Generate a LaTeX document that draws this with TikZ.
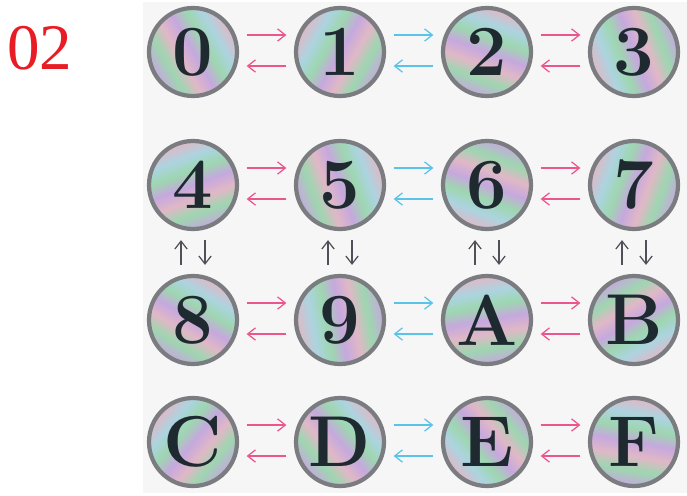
\documentclass[tikz,border=0pt]{standalone}
\usepackage{fontspec}
\usepackage{xcolor}
\usepackage{tikz}
\usetikzlibrary{arrows.meta, positioning}
\newfontfamily\tagfont{Liberation Serif}
\definecolor{irispurple}{RGB}{198,168,222}
\definecolor{irisgreen}{RGB}{158,214,176}
\definecolor{irispink}{RGB}{224,184,198}
\definecolor{iriscyan}{RGB}{172,212,224}
\definecolor{rimgray}{RGB}{122,124,128}
\definecolor{glyphdark}{RGB}{30,42,48}
\definecolor{pinkline}{RGB}{236,86,140}
\definecolor{cyanline}{RGB}{90,196,232}
\definecolor{stemgray}{RGB}{80,80,88}
\definecolor{panelgray}{RGB}{246,246,247}
\definecolor{labelred}{RGB}{232,28,36}
\pgfdeclarehorizontalshading{iris}{100bp}{color(0bp)=(irispurple);
  color(25bp)=(irispurple); color(34bp)=(irisgreen); color(42bp)=(irispink);
  color(50bp)=(irispurple); color(58bp)=(irisgreen); color(66bp)=(iriscyan);
  color(75bp)=(irispink); color(100bp)=(irispink)}
\tikzset{
  coin/.style={circle, minimum size=1.76cm, inner sep=0pt, draw=rimgray,
    line width=2.4pt, shading=iris, shading angle=#1, text=glyphdark,
    font=\fontsize{41}{41}\selectfont\bfseries},
  coin/.default=0,
  pinkarrow/.style={-{Straight Barb[length=4.5pt,width=7pt]}, line width=0.7pt,
    color=pinkline, shorten <=0.15cm, shorten >=0.15cm},
  cyanarrow/.style={pinkarrow, color=cyanline},
  stemarrow/.style={pinkarrow, color=stemgray, shorten <=0.18cm, shorten >=0.18cm},
}
\begin{document}
\begin{tikzpicture}[on grid, node distance=2.66cm and 2.94cm]
  \useasboundingbox (0,0) rectangle (13.74,-9.9);
  \fill[panelgray] (2.86,-0.04) rectangle (13.74,-9.86);
  \node[font=\tagfont\fontsize{37}{37}\selectfont, text=labelred] (tag) at (0.8,-0.96) {02};

  % row 0
  \node[coin=30] (n0) at (3.86,-1.04) {0};
  \node[coin=150, right=of n0] (n1) {1};
  \node[coin=70, right=of n1] (n2) {2};
  \node[coin=200, right=of n2] (n3) {3};
  % row 1
  \node[coin=110, below=of n0] (n4) {4};
  \node[coin=20, right=of n4] (n5) {5};
  \node[coin=250, right=of n5] (n6) {6};
  \node[coin=160, right=of n6] (n7) {7};
  % row 2
  \node[coin=60, below=2.70cm of n4] (n8) {8};
  \node[coin=190, right=of n8] (n9) {9};
  \node[coin=100, right=of n9] (nA) {A};
  \node[coin=300, right=of nA] (nB) {B};
  % row 3
  \node[coin=140, below=2.44cm of n8] (nC) {C};
  \node[coin=40, right=of nC] (nD) {D};
  \node[coin=220, right=of nD] (nE) {E};
  \node[coin=80, right=of nE] (nF) {F};

  \draw[pinkarrow] ([yshift=0.34cm]n0.east) -- ([yshift=0.34cm]n1.west);
  \draw[pinkarrow] ([yshift=-0.28cm]n1.west) -- ([yshift=-0.28cm]n0.east);
  \draw[cyanarrow] ([yshift=0.34cm]n1.east) -- ([yshift=0.34cm]n2.west);
  \draw[cyanarrow] ([yshift=-0.28cm]n2.west) -- ([yshift=-0.28cm]n1.east);
  \draw[pinkarrow] ([yshift=0.34cm]n2.east) -- ([yshift=0.34cm]n3.west);
  \draw[pinkarrow] ([yshift=-0.28cm]n3.west) -- ([yshift=-0.28cm]n2.east);

  \draw[pinkarrow] ([yshift=0.34cm]n4.east) -- ([yshift=0.34cm]n5.west);
  \draw[pinkarrow] ([yshift=-0.28cm]n5.west) -- ([yshift=-0.28cm]n4.east);
  \draw[cyanarrow] ([yshift=0.34cm]n5.east) -- ([yshift=0.34cm]n6.west);
  \draw[cyanarrow] ([yshift=-0.28cm]n6.west) -- ([yshift=-0.28cm]n5.east);
  \draw[pinkarrow] ([yshift=0.34cm]n6.east) -- ([yshift=0.34cm]n7.west);
  \draw[pinkarrow] ([yshift=-0.28cm]n7.west) -- ([yshift=-0.28cm]n6.east);

  \draw[pinkarrow] ([yshift=0.34cm]n8.east) -- ([yshift=0.34cm]n9.west);
  \draw[pinkarrow] ([yshift=-0.28cm]n9.west) -- ([yshift=-0.28cm]n8.east);
  \draw[cyanarrow] ([yshift=0.34cm]n9.east) -- ([yshift=0.34cm]nA.west);
  \draw[cyanarrow] ([yshift=-0.28cm]nA.west) -- ([yshift=-0.28cm]n9.east);
  \draw[pinkarrow] ([yshift=0.34cm]nA.east) -- ([yshift=0.34cm]nB.west);
  \draw[pinkarrow] ([yshift=-0.28cm]nB.west) -- ([yshift=-0.28cm]nA.east);

  \draw[pinkarrow] ([yshift=0.34cm]nC.east) -- ([yshift=0.34cm]nD.west);
  \draw[pinkarrow] ([yshift=-0.28cm]nD.west) -- ([yshift=-0.28cm]nC.east);
  \draw[cyanarrow] ([yshift=0.34cm]nD.east) -- ([yshift=0.34cm]nE.west);
  \draw[cyanarrow] ([yshift=-0.28cm]nE.west) -- ([yshift=-0.28cm]nD.east);
  \draw[pinkarrow] ([yshift=0.34cm]nE.east) -- ([yshift=0.34cm]nF.west);
  \draw[pinkarrow] ([yshift=-0.28cm]nF.west) -- ([yshift=-0.28cm]nE.east);

  % up and down between rows 1 and 2
  \draw[stemarrow] ([xshift=-0.24cm]n8.north) -- ([xshift=-0.24cm]n4.south);
  \draw[stemarrow] ([xshift=0.24cm]n4.south) -- ([xshift=0.24cm]n8.north);
  \draw[stemarrow] ([xshift=-0.24cm]n9.north) -- ([xshift=-0.24cm]n5.south);
  \draw[stemarrow] ([xshift=0.24cm]n5.south) -- ([xshift=0.24cm]n9.north);
  \draw[stemarrow] ([xshift=-0.24cm]nA.north) -- ([xshift=-0.24cm]n6.south);
  \draw[stemarrow] ([xshift=0.24cm]n6.south) -- ([xshift=0.24cm]nA.north);
  \draw[stemarrow] ([xshift=-0.24cm]nB.north) -- ([xshift=-0.24cm]n7.south);
  \draw[stemarrow] ([xshift=0.24cm]n7.south) -- ([xshift=0.24cm]nB.north);
\end{tikzpicture}
\end{document}
